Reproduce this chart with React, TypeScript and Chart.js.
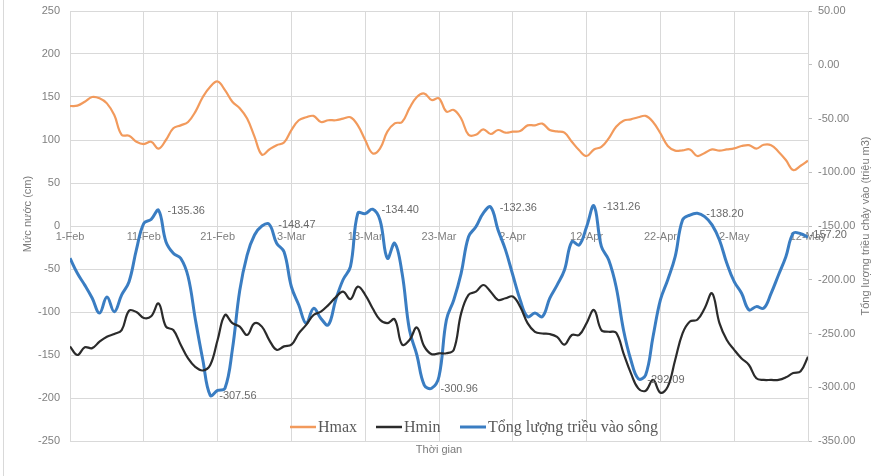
import React, { useEffect, useRef } from 'react';
import { Chart, registerables } from 'chart.js';

Chart.register(...registerables);

// x positions are day offsets from 1-Feb (0..100)
const xTickDays = [0, 10, 20, 30, 40, 50, 60, 70, 80, 90, 100];
const xTickLabels = ['1-Feb', '11-Feb', '21-Feb', '3-Mar', '13-Mar', '23-Mar', '2-Apr', '12-Apr', '22-Apr', '2-May', '12-May'];

const hmax = [
  139.5, 140, 144.5, 150, 148.5, 142.6, 129, 106, 105, 98,
  95.3, 98, 90, 100, 113.6, 117, 121, 133, 150, 162,
  168, 158, 144.5, 137, 125, 104, 83, 89, 94, 97,
  111.6, 123, 126.4, 128, 121, 123, 123, 124.8, 126.4, 117,
  100, 84.5, 90, 109.7, 119.4, 121, 137, 150, 154, 146.5,
  148.5, 133, 135, 125, 106, 106, 112.4, 107, 111.6, 108.5,
  109.7, 110.5, 117, 117, 119, 111.6, 110, 108.5, 98, 88,
  81.4, 89, 92, 102, 115.5, 122.5, 124, 126.4, 128, 121,
  107.8, 93, 87.6, 88, 89, 81.4, 85, 89, 87.6, 89,
  90.3, 93, 94, 90, 94.5, 94, 86.4, 76.7, 65, 70, 76,
];

const hmin = [
  -140, -150, -141, -142, -134.5, -128.7, -125.6, -121, -98.5, -100,
  -107, -105, -90, -117, -121, -138, -154, -164, -168, -161.6,
  -132.6, -103.5, -113, -117, -126.7, -113, -117, -132.6, -144, -140,
  -138, -124.8, -115, -103.5, -99.6, -92, -83, -76.4, -85, -70.5,
  -80, -95.7, -109, -113, -108.5, -138, -132.6, -118, -140, -149,
  -148, -148, -144, -101.6, -80, -76.4, -68.6, -76.4, -86, -84,
  -82, -93.8, -113, -123, -125, -125.6, -129, -138, -126.7, -126.7,
  -113, -97.7, -121, -123, -124, -148, -171, -188.8, -191.5, -179,
  -193.8, -186.8, -155.8, -124.8, -111, -109, -95.7, -78.3, -113, -132.6,
  -144, -154, -161.6, -177, -179, -179, -179, -176, -171, -169, -152,
];

const tide = [
  -180, -194, -205, -217, -231, -216, -229.7, -214, -201.8, -172,
  -147.5, -143.8, -135.36, -164.6, -175.4, -180, -197, -237.4, -274.7, -307.56,
  -303, -301, -265, -210, -177, -158.4, -150, -148.47, -166, -174,
  -206.5, -223.5, -240.5, -226.6, -236, -242, -218.8, -200, -187.8, -138,
  -138.5, -134.4, -144.4, -180, -166, -194, -246.7, -270, -298, -300.96,
  -290, -237.4, -218.8, -194, -160, -150.7, -138, -132.36, -153.7, -172,
  -195.6, -218.8, -234.4, -231, -234.4, -217.3, -205, -191, -164.6, -167.7,
  -150.7, -131.26, -169, -181.6, -206.5, -246.7, -274.6, -292.09, -288.6, -253,
  -218.8, -200, -178.5, -144.4, -139.8, -138.2, -141.3, -149, -163, -184.7,
  -201.8, -212.6, -228, -225, -226.5, -212.6, -195.6, -178.5, -156.8, -157.2, -160.5,
];

const tideLabelIdx = [12, 19, 27, 41, 49, 57, 71, 77, 85, 99];

const seriesNames = ['Hmax', 'Hmin', 'Tổng lượng triều vào sông'];
const seriesColors = ['#F29A5C', '#2b2b2b', '#3A7DC2'];

const toXY = (arr: number[]) => arr.map((v, i) => ({ x: i, y: v }));

const tickFont = { family: 'Liberation Sans', size: 11 };
const tickColor = '#808080';

const overlayPlugin = {
  id: 'overlay',
  beforeDatasetsDraw(chart: any) {
    const ctx = chart.ctx;
    const xs = chart.scales.x;
    const yl = chart.scales.y;
    const y0 = yl.getPixelForValue(0);
    ctx.save();
    ctx.font = '11px "Liberation Sans"';
    ctx.fillStyle = tickColor;
    ctx.textAlign = 'center';
    ctx.textBaseline = 'middle';
    xTickDays.forEach((d, i) => {
      ctx.fillText(xTickLabels[i], xs.getPixelForValue(d), y0 + 11);
    });
    ctx.restore();
  },
  afterDatasetsDraw(chart: any) {
    const ctx = chart.ctx;
    const meta = chart.getDatasetMeta(2);
    ctx.save();
    ctx.font = '11px "Liberation Sans"';
    ctx.fillStyle = '#6a6a6a';
    ctx.textAlign = 'left';
    ctx.textBaseline = 'middle';
    tideLabelIdx.forEach((idx) => {
      const pt = meta.data[idx];
      ctx.fillText(tide[idx].toFixed(2), pt.x + 9, pt.y + 1);
    });
    ctx.restore();
  },
  afterDraw(chart: any) {
    const ctx = chart.ctx;
    const area = chart.chartArea;
    ctx.save();
    // frame line at left
    ctx.strokeStyle = '#d9d9d9';
    ctx.lineWidth = 1;
    ctx.beginPath();
    ctx.moveTo(3.5, 0);
    ctx.lineTo(3.5, 476);
    ctx.stroke();

    // axis titles
    ctx.fillStyle = '#7a7a7a';
    ctx.font = '11px "Liberation Sans"';
    ctx.textAlign = 'center';
    ctx.textBaseline = 'middle';
    ctx.save();
    ctx.translate(28, 214);
    ctx.rotate(-Math.PI / 2);
    ctx.fillText('Mức nước (cm)', 0, 0);
    ctx.restore();
    ctx.save();
    ctx.translate(866, 226);
    ctx.rotate(-Math.PI / 2);
    ctx.fillText('Tổng lượng triều chảy vào (triệu m3)', 0, 0);
    ctx.restore();
    ctx.fillText('Thời gian', (area.left + area.right) / 2 + 0, 450);

    // legend
    const items = [
      { x0: 290, tx: 318 },
      { x0: 376, tx: 404 },
      { x0: 460, tx: 488 },
    ];
    const ly = 427;
    ctx.font = '16px "Liberation Serif"';
    ctx.textAlign = 'left';
    items.forEach((it, i) => {
      ctx.strokeStyle = seriesColors[i];
      ctx.lineWidth = i === 2 ? 3 : 2.5;
      ctx.beginPath();
      ctx.moveTo(it.x0, ly);
      ctx.lineTo(it.x0 + 26, ly);
      ctx.stroke();
      ctx.fillStyle = '#595959';
      ctx.fillText(seriesNames[i], it.tx, ly + 1);
    });
    ctx.restore();
  },
};

export default function App() {
  const ref = useRef<HTMLCanvasElement | null>(null);
  useEffect(() => {
    if (!ref.current) return;
    const chart = new Chart(ref.current, {
      type: 'line',
      data: {
        datasets: [
          {
            label: seriesNames[0],
            data: toXY(hmax),
            borderColor: seriesColors[0],
            borderWidth: 2.2,
            pointRadius: 0,
            tension: 0.4,
            yAxisID: 'y',
          },
          {
            label: seriesNames[1],
            data: toXY(hmin),
            borderColor: seriesColors[1],
            borderWidth: 2.2,
            pointRadius: 0,
            tension: 0.4,
            yAxisID: 'y',
          },
          {
            label: seriesNames[2],
            data: toXY(tide),
            borderColor: seriesColors[2],
            borderWidth: 3,
            pointRadius: 0,
            tension: 0.4,
            yAxisID: 'y1',
          },
        ],
      },
      options: {
        responsive: false,
        animation: false,
        layout: { padding: { top: 11, left: 0, right: 0, bottom: 0 } },
        plugins: {
          legend: { display: false },
          tooltip: { enabled: false },
        },
        scales: {
          x: {
            type: 'linear',
            min: 0,
            max: 100,
            ticks: { display: false, stepSize: 10 },
            grid: { color: '#d9d9d9', drawTicks: false, lineWidth: 1 },
            border: { display: false },
            afterFit: (s: any) => {
              s.height = 35;
              s.paddingLeft = 0;
              s.paddingRight = 0;
              s.paddingTop = 0;
              s.paddingBottom = 0;
            },
          },
          y: {
            position: 'left',
            min: -250,
            max: 250,
            ticks: { stepSize: 50, color: tickColor, font: tickFont, padding: 10 },
            grid: { color: '#d9d9d9', drawTicks: false },
            border: { display: false },
            afterFit: (s: any) => {
              s.width = 70;
              s.paddingTop = 0;
              s.paddingBottom = 0;
            },
          },
          y1: {
            position: 'right',
            min: -350,
            max: 50,
            ticks: {
              stepSize: 50,
              color: tickColor,
              font: tickFont,
              padding: 6,
              callback: (v: any) => Number(v).toFixed(2),
            },
            grid: { drawOnChartArea: false, drawTicks: true, tickLength: 4, color: '#bfbfbf' },
            border: { display: true, color: '#d9d9d9' },
            afterFit: (s: any) => {
              s.width = 80;
              s.paddingTop = 0;
              s.paddingBottom = 0;
            },
          },
        },
      },
      plugins: [overlayPlugin],
    });
    return () => chart.destroy();
  }, []);
  return (
    <div style={{ position: 'fixed', left: 0, top: 0, width: 888, height: 476, background: '#fff' }}>
      <canvas ref={ref} width={888} height={476} style={{ width: 888, height: 476, display: 'block' }} />
    </div>
  );
}
